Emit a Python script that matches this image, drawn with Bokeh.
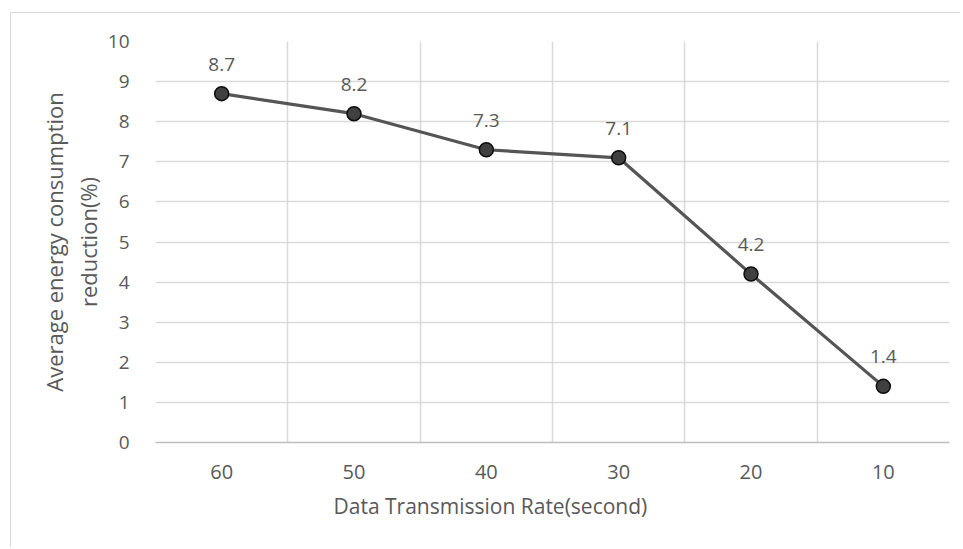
from bokeh.plotting import figure
from bokeh.models import Range1d, FixedTicker, ColumnDataSource, LabelSet, Title
from bokeh.core.properties import value
from bokeh.embed import file_html
from bokeh.resources import INLINE

categories = ["60", "50", "40", "30", "20", "10"]
values = [8.7, 8.2, 7.3, 7.1, 4.2, 1.4]
y_ticks = [0, 1, 2, 3, 4, 5, 6, 7, 8, 9, 10]
x_title = "Data Transmission Rate(second)"
y_title_lines = ["Average energy consumption", "reduction(%)"]

FONT = "Open Sans"
TXT = "#595959"
GRID = "#d9d9d9"

n = len(categories)
xs = [i + 0.5 for i in range(n)]

p = figure(width=950, height=535, output_backend="svg", toolbar_location=None,
           x_range=Range1d(0, n), y_range=Range1d(0, 10),
           min_border_left=144, min_border_top=28, min_border_right=12,
           min_border_bottom=106)
p.margin = (12, 0, 0, 10)
p.styles = {"border-left": "1.5px solid #d9d9d9", "border-top": "1.5px solid #d9d9d9"}
p.outline_line_color = None
p.background_fill_color = "white"
p.border_fill_color = "white"

# axes
p.xaxis.ticker = FixedTicker(ticks=xs)
p.xaxis.major_label_overrides = {x: c for x, c in zip(xs, categories)}
p.xaxis.axis_line_color = "#bfbfbf"
p.xaxis.axis_line_width = 1.5
p.xaxis.major_tick_line_color = None
p.xaxis.minor_tick_line_color = None
p.xaxis.major_label_standoff = 16
p.xaxis.major_label_text_font = FONT
p.xaxis.major_label_text_font_size = "20px"
p.xaxis.major_label_text_color = TXT

p.yaxis.ticker = FixedTicker(ticks=y_ticks)
p.yaxis.axis_line_color = None
p.yaxis.major_tick_line_color = None
p.yaxis.minor_tick_line_color = None
p.yaxis.major_label_standoff = 20
p.yaxis.major_label_text_font = FONT
p.yaxis.major_label_text_font_size = "19px"
p.yaxis.major_label_text_color = TXT

# grids
p.xgrid.ticker = FixedTicker(ticks=list(range(1, n + 1)))
p.xgrid.grid_line_color = GRID
p.xgrid.grid_line_width = 1.5
p.ygrid.ticker = FixedTicker(ticks=y_ticks[1:])
p.ygrid.grid_line_color = GRID
p.ygrid.grid_line_width = 1.5

src = ColumnDataSource(dict(x=xs, y=values, lab=[f"{v:.1f}" for v in values]))
p.line("x", "y", source=src, line_color="#555555", line_width=3.2)
p.scatter("x", "y", source=src, size=14, fill_color="#404040",
          line_color="#0d0d0d", line_width=1.5)

labels = LabelSet(x="x", y="y", text="lab", source=src, y_offset=23,
                  text_align="center", text_baseline="alphabetic",
                  text_font=value(FONT), text_font_size=value("19px"),
                  text_color=TXT)
p.add_layout(labels)

# axis titles
p.add_layout(Title(text=x_title, align="left", offset=178, standoff=16,
                   text_font=FONT, text_font_size="21px",
                   text_font_style="normal", text_color=TXT), "below")
p.add_layout(Title(text=y_title_lines[1], align="center", offset=-3, standoff=3,
                   text_font=FONT, text_font_size="22px",
                   text_font_style="normal", text_color=TXT), "left")
p.add_layout(Title(text=y_title_lines[0], align="center", offset=-3, standoff=2,
                   text_font=FONT, text_font_size="22px",
                   text_font_style="normal", text_color=TXT), "left")

open("out.html", "w").write(file_html(p, INLINE))
